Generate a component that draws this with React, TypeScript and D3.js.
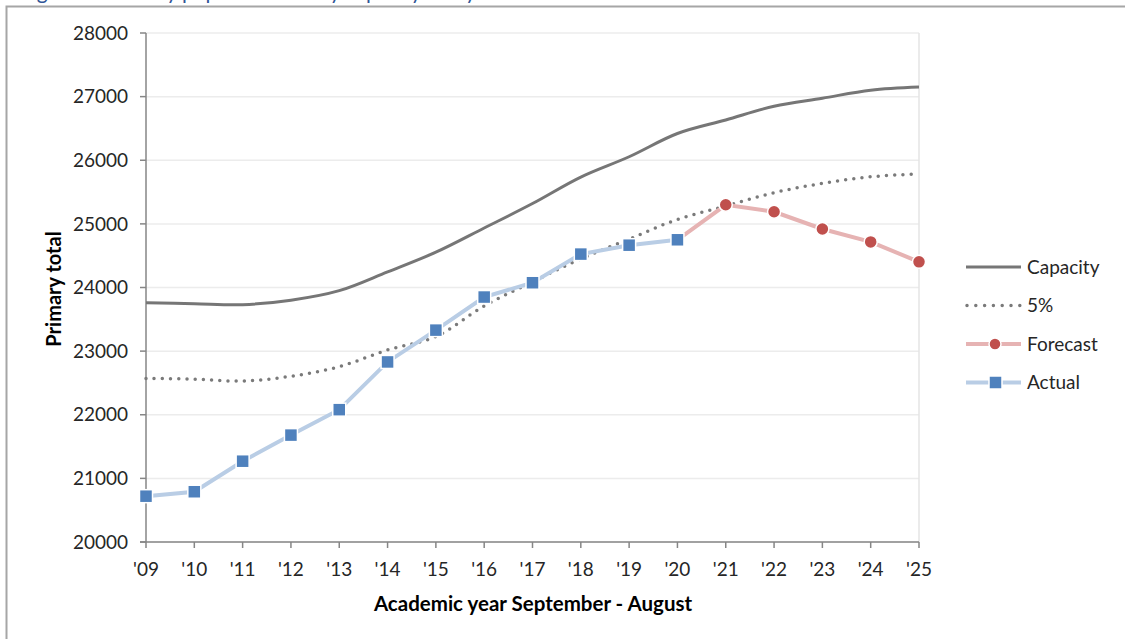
import * as d3 from "d3";

const years = ["'09", "'10", "'11", "'12", "'13", "'14", "'15", "'16", "'17", "'18", "'19", "'20", "'21", "'22", "'23", "'24", "'25"];
const capacity = [23760, 23745, 23730, 23800, 23950, 24245, 24555, 24935, 25320, 25736, 26055, 26420, 26633, 26850, 26975, 27100, 27150];
const fivePct = [22570, 22560, 22530, 22605, 22756, 23018, 23228, 23710, 24090, 24450, 24760, 25070, 25280, 25490, 25637, 25740, 25785];
const actualYears = ["'09", "'10", "'11", "'12", "'13", "'14", "'15", "'16", "'17", "'18", "'19", "'20"];
const actual = [20720, 20790, 21270, 21680, 22080, 22830, 23330, 23850, 24075, 24525, 24665, 24750];
const forecastYears = ["'20", "'21", "'22", "'23", "'24", "'25"];
const forecast = [24750, 25300, 25190, 24920, 24717, 24403];
const yTicks = [20000, 21000, 22000, 23000, 24000, 25000, 26000, 27000, 28000];

const W = 1125;
const H = 639;
const FONT = "Lato, 'Open Sans', sans-serif";

export default function App() {
  const x = d3.scalePoint<string>().domain(years).range([146, 919]);
  const y = d3.scaleLinear().domain([20000, 28000]).range([542, 33]);

  const smooth = d3
    .line<number>()
    .x((_, i) => x(years[i]) as number)
    .y((d) => y(d))
    .curve(d3.curveCatmullRom.alpha(0.5));

  const straight = (ys: string[]) =>
    d3
      .line<number>()
      .x((_, i) => x(ys[i]) as number)
      .y((d) => y(d));

  const legend = [
    { label: "Capacity", kind: "cap" },
    { label: "5%", kind: "dot" },
    { label: "Forecast", kind: "fc" },
    { label: "Actual", kind: "act" },
  ];

  return (
    <svg width={W} height={H} style={{ position: "absolute", left: 0, top: 0, background: "#fff" }}>
      {/* caption, cut off by the top edge as in the source screenshot */}
      <text x={20} y={-1} fontFamily={FONT} fontSize={21} fill="#2f5597">
        Figure 4: Primary pupil numbers by capacity and year
      </text>
      {/* outer frame */}
      <path d={`M6.5,${H} V6.5 H${W}`} fill="none" stroke="#a6a6a6" strokeWidth={2} />

      {/* gridlines + plot area border */}
      {yTicks.map((t) => (
        <line key={t} x1={146} x2={919} y1={y(t)} y2={y(t)} stroke="#ececec" strokeWidth={1.5} />
      ))}
      <line x1={919} x2={919} y1={33} y2={542} stroke="#e4e4e4" strokeWidth={1.5} />

      {/* axes */}
      <line x1={146} x2={146} y1={33} y2={542} stroke="#868686" strokeWidth={1.5} />
      <line x1={140} x2={919} y1={542} y2={542} stroke="#868686" strokeWidth={1.5} />
      {yTicks.map((t) => (
        <g key={"yt" + t}>
          <line x1={140} x2={146} y1={y(t)} y2={y(t)} stroke="#868686" strokeWidth={1.5} />
          <text x={128} y={y(t)} dy="0.35em" textAnchor="end" fontFamily={FONT} fontSize={19} fill="#262626">
            {t}
          </text>
        </g>
      ))}
      {years.map((yr) => (
        <g key={"xt" + yr}>
          <line x1={x(yr)} x2={x(yr)} y1={542} y2={548} stroke="#868686" strokeWidth={1.5} />
          <text x={x(yr)} y={576} textAnchor="middle" fontFamily={FONT} fontSize={19} fill="#262626">
            {yr}
          </text>
        </g>
      ))}
      <text x={533} y={611} textAnchor="middle" fontFamily={FONT} fontSize={20.5} fontWeight="bold" fill="#000">
        Academic year September - August
      </text>
      <text
        transform={`translate(61,289) rotate(-90)`}
        textAnchor="middle"
        fontFamily={FONT}
        fontSize={20}
        fontWeight="bold"
        fill="#000"
      >
        Primary total
      </text>

      {/* series */}
      <path d={smooth(capacity) ?? ""} fill="none" stroke="#767676" strokeWidth={3} />
      <path
        d={smooth(fivePct) ?? ""}
        fill="none"
        stroke="#7a7a7a"
        strokeWidth={3.5}
        strokeDasharray="0 8.2"
        strokeLinecap="round"
      />
      <path d={straight(forecastYears)(forecast) ?? ""} fill="none" stroke="#e6b3b3" strokeWidth={4} />
      {forecast.map((v, i) =>
        i === 0 ? null : (
          <circle key={"f" + i} cx={x(forecastYears[i])} cy={y(v)} r={6.5} fill="#c0504d" stroke="#fff" strokeWidth={1.5} />
        )
      )}
      <path d={straight(actualYears)(actual) ?? ""} fill="none" stroke="#b9cde5" strokeWidth={4} />
      {actual.map((v, i) => (
        <rect
          key={"a" + i}
          x={(x(actualYears[i]) as number) - 6.5}
          y={y(v) - 6.5}
          width={13}
          height={13}
          fill="#4f81bd"
          stroke="#fff"
          strokeWidth={1.5}
        />
      ))}

      {/* legend */}
      {legend.map((l, i) => {
        const ly = 267 + i * 38.5;
        return (
          <g key={l.label}>
            {l.kind === "cap" && <line x1={966} x2={1021} y1={ly} y2={ly} stroke="#767676" strokeWidth={3} />}
            {l.kind === "dot" && (
              <line x1={967} x2={1021} y1={ly} y2={ly} stroke="#7a7a7a" strokeWidth={3.5} strokeDasharray="0 8.8" strokeLinecap="round" />
            )}
            {l.kind === "fc" && (
              <>
                <line x1={966} x2={1021} y1={ly} y2={ly} stroke="#e6b3b3" strokeWidth={4} />
                <circle cx={995} cy={ly} r={6} fill="#c0504d" stroke="#fff" strokeWidth={1.5} />
              </>
            )}
            {l.kind === "act" && (
              <>
                <line x1={966} x2={1021} y1={ly} y2={ly} stroke="#b9cde5" strokeWidth={4} />
                <rect x={989} y={ly - 6.5} width={13} height={13} fill="#4f81bd" stroke="#fff" strokeWidth={1.5} />
              </>
            )}
            <text x={1027} y={ly} dy="0.35em" fontFamily={FONT} fontSize={19} fill="#262626">
              {l.label}
            </text>
          </g>
        );
      })}
    </svg>
  );
}
